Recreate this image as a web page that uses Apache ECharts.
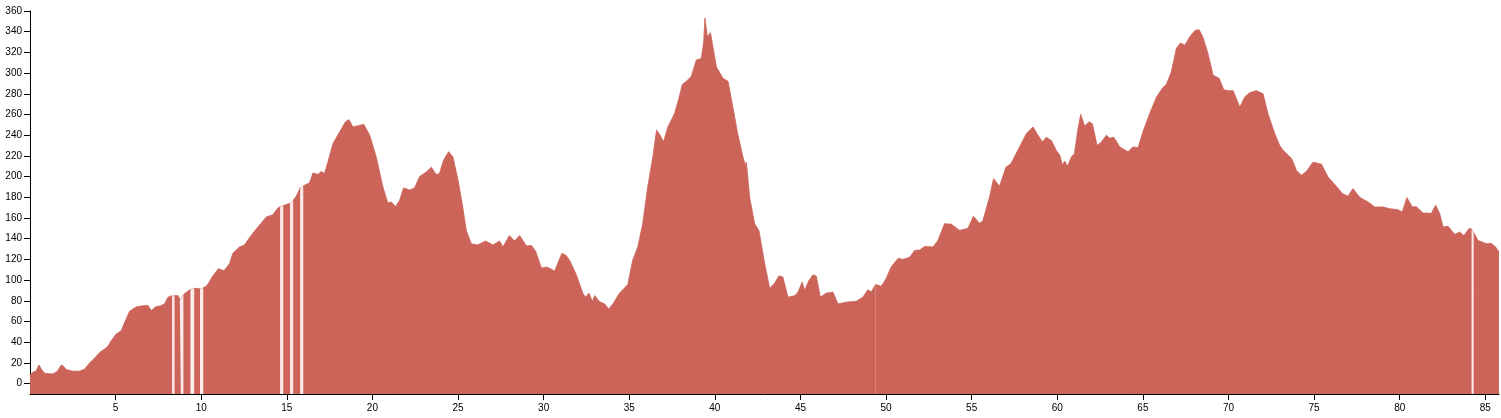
<!DOCTYPE html>
<html>
<head>
<meta charset="utf-8">
<script src="https://cdn.jsdelivr.net/npm/echarts@6/dist/echarts.min.js"></script>
<style>
html,body{margin:0;padding:0;background:#fff;}
#chart{width:1501px;height:418px;}
</style>
</head>
<body>
<div id="chart"></div>
<script>
// distance along route (km)
var distances = [
0.0,0.17,0.35,0.52,0.7,0.85,1.1,1.35,1.6,1.83,2.0,2.12,2.5,2.9,3.19,3.48,3.8,4.07,4.36,4.55,4.75,
5.04,5.33,5.55,5.82,6.2,6.5,6.89,7.08,7.37,7.6,7.86,8.06,8.30,8.37,8.44,8.65,8.75,8.81,8.88,8.96,
9.03,9.2,9.37,9.48,9.59,9.8,9.93,10.02,10.12,10.3,10.5,10.68,11.0,11.33,11.66,11.85,12.24,12.53,
12.82,13.1,13.4,13.8,14.18,14.45,14.61,14.7,14.79,14.97,15.19,15.28,15.37,15.55,15.78,15.87,15.96,
16.33,16.53,16.82,17.0,17.2,17.4,17.7,18.08,18.43,18.63,18.86,19.15,19.49,19.84,20.22,20.61,20.9,
21.1,21.35,21.59,21.82,22.17,22.46,22.76,23.15,23.44,23.73,23.92,24.16,24.45,24.7,25.0,25.25,25.48,
25.78,26.16,26.6,27.04,27.43,27.62,28.0,28.3,28.6,28.99,29.28,29.53,29.87,30.16,30.4,30.64,31.07,
31.3,31.52,31.9,32.3,32.45,32.65,32.84,32.98,33.27,33.56,33.8,34.05,34.43,34.7,34.92,35.2,35.5,
35.79,36.08,36.38,36.6,36.8,37.0,37.26,37.65,37.9,38.1,38.33,38.63,38.92,39.21,39.35,39.42,39.56,
39.74,40.09,40.47,40.77,41.05,41.35,41.64,41.8,41.84,42.03,42.32,42.57,42.91,43.2,43.49,43.74,
43.97,44.27,44.66,44.85,45.1,45.24,45.5,45.73,45.92,46.16,46.51,46.9,47.19,47.68,48.26,48.65,
48.94,49.14,49.39,49.72,50.0,50.3,50.7,50.99,51.38,51.67,51.96,52.26,52.74,53.03,
53.42,53.81,54.3,54.78,55.1,55.45,55.65,56.04,56.28,56.63,57.0,57.3,57.7,58.2,58.58,58.87,59.13,
59.36,59.65,59.95,60.14,60.3,60.43,60.6,60.83,61.0,61.2,61.37,61.6,61.85,62.05,62.32,62.58,62.87,
63.06,63.3,63.65,64.13,64.42,64.72,65.0,65.4,65.8,66.17,66.37,66.66,66.96,67.2,67.45,67.74,68.03,
68.28,68.5,68.8,69.1,69.45,69.72,69.97,70.27,70.66,70.95,71.24,71.63,72.02,72.3,72.7,72.99,73.19,
73.68,73.97,74.26,74.55,74.94,75.43,75.81,76.3,76.65,76.98,77.27,77.66,78.15,78.54,79.02,79.41,
79.9,80.15,80.42,80.74,80.97,81.36,81.85,82.1,82.33,82.53,82.82,83.21,83.5,83.75,84.05,84.2,84.26,
84.32,84.57,85.06,85.35,85.6,85.8
];
// elevation (m); null = no data (gap)
var elevations = [
8,11,12,18,13,10,9.5,9.4,12,18,16,13.5,12,12,14,20,25,30,33.5,36,41.6,
48,51,60,70,74,75,75.5,70.6,74.5,75,77,83.5,85,null,85,85,81,82,null,86,
87,89,91,null,92,92,91.5,null,92.6,94,99,104,111,109,116,126,132,134,
141,147,153,161,163,169,171,null,172,173,174,null,177,181,189,null,191,
194,203.5,202,205,203,214,232,243,253,255,248,249,250.6,240,219,190,174.5,
175.5,171,177,189,187,189,200,204.5,209,202,203,216,224,219,196.5,173,148,
135,134,137.7,134,137.7,132,143,137.7,143,133,133.5,128,111.6,112.6,111,108.7,126,
124,119,105.5,86.8,83.6,87.4,79.4,85,79,77,72,77,87.4,92,95.8,119,132,
154.5,190,219,245,240,233.5,248,261,275.5,289,292,297,312.6,314,330,353,335,
339,306,295,292,267,240,219,210,214,180,154.5,148,116,92,97,104,
103,83.5,85,88,98,90,99.7,105,104,83.5,87.4,88.4,77,78.7,79.6,83.5,
90.7,88.5,95.8,94,101.3,112.6,121,120,122,128.7,129,132.6,132,138.4,
154.5,154,148,150,161.6,155,157,180,198,190.6,209,212.6,225.5,241.6,248,240,233.5,
238,235,225,221,211,215,210,219,222,245,260,248.7,253,251,230,233.5,240,
237,238,228.7,224,228.7,228,243,261,277,286,289,301,324,329,327,335,341,
342,335,319,298,295,284,283,283,267,277,281,283,280,261,241.6,230,225.5,
217.5,206,201.3,205,214,212,199.7,190.6,183.6,181,188.4,180,175.5,170.6,170.6,169,
168,165.8,179.7,170.6,171,164.8,164.5,172.3,164.5,151.3,152,144.2,146.4,143,149.7,149.5,null,
146,138.4,135.2,135.5,132,127
];
// km where a faint data seam is visible
var seamKm = [49.38];
var xTicks = [5,10,15,20,25,30,35,40,45,50,55,60,65,70,75,80,85];
var yTicks = [0,20,40,60,80,100,120,140,160,180,200,220,240,260,280,300,320,340,360];

var seriesData = distances.map(function (d, i) { return [d, elevations[i]]; });
var underlayData = distances.map(function (d, i) { return [d, elevations[i]]; }).filter(function (p) { return p[1] !== null; });

var chart = echarts.init(document.getElementById('chart'), null, {renderer: 'canvas'});
var axisFont = {fontSize: 10, color: '#000', fontFamily: 'Liberation Sans, Arial, sans-serif'};
chart.setOption({
  animation: false,
  grid: {left: 30, right: 2, top: 11, bottom: 24},
  xAxis: {
    type: 'value', min: 0, max: 85.8,
    splitLine: {show: false},
    axisLine: {show: true, onZero: false, lineStyle: {color: '#000', width: 1}},
    axisTick: {show: true, length: 6, lineStyle: {color: '#000'}, customValues: xTicks},
    axisLabel: Object.assign({margin: 9, customValues: xTicks}, axisFont)
  },
  yAxis: {
    type: 'value', min: -10, max: 360,
    splitLine: {show: false},
    axisLine: {show: true, onZero: false, lineStyle: {color: '#000', width: 1}},
    axisTick: {show: true, length: 6, lineStyle: {color: '#000'}, customValues: yTicks},
    axisLabel: Object.assign({margin: 8, customValues: yTicks}, axisFont)
  },
  series: [{
    type: 'line',
    data: underlayData,
    showSymbol: false,
    silent: true,
    z: 1,
    lineStyle: {width: 0.8, color: '#e8a9a2'},
    areaStyle: {color: '#fbeceb', opacity: 1, origin: 'start'}
  }, {
    type: 'line',
    data: seriesData,
    showSymbol: false,
    connectNulls: false,
    z: 2,
    lineStyle: {width: 0.6, color: '#c65f55'},
    areaStyle: {color: '#cd645a', opacity: 1, origin: 'start'},
    itemStyle: {color: '#cd645a'},
    markLine: {
      silent: true,
      symbol: 'none',
      label: {show: false},
      lineStyle: {color: 'rgba(255,255,255,0.18)', width: 1, type: 'solid'},
      data: seamKm.map(function (k) { return {xAxis: k}; })
    }
  }]
});
</script>
</body>
</html>
